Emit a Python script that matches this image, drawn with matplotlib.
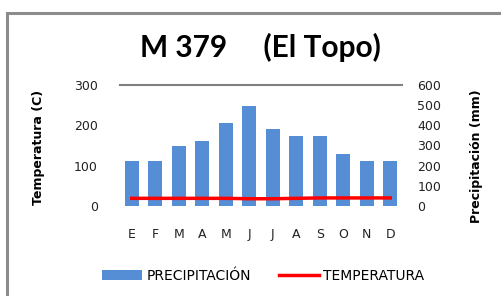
import matplotlib.pyplot as plt
from matplotlib.patches import Rectangle

months = ["E", "F", "M", "A", "M", "J", "J", "A", "S", "O", "N", "D"]
precipitacion = [225, 225, 300, 320, 410, 495, 380, 345, 345, 260, 225, 225]
temperatura = [19, 19, 19, 19, 19, 18, 18, 19, 20, 20, 20, 20]
temp_ticks = [0, 100, 200, 300]
prec_ticks = [0, 100, 200, 300, 400, 500, 600]

plt.rcParams['font.family'] = ['DejaVu Sans']

fig = plt.figure(figsize=(5.01, 2.96), dpi=100)

# outer chart border (only top/left visible in the crop)
fig.patches.append(Rectangle((7 / 501, -0.2), 1.2, 1 - 13 / 296 + 0.2,
                             transform=fig.transFigure, fill=False,
                             edgecolor="#8c8c8c", linewidth=2.2))

ax = fig.add_axes([120 / 501, 90 / 296, 282 / 501, 121 / 296])
ax2 = ax.twinx()
ax.set_zorder(ax2.get_zorder() + 1)
ax.patch.set_visible(False)

x = list(range(len(months)))
ax2.bar(x, precipitacion, width=0.58, color="#558ed5", label="PRECIPITACIÓN")
ax.plot(x, temperatura, color="#ff0000", linewidth=2.5, label="TEMPERATURA")

ax.set_xlim(-0.5, 11.5)
ax.set_ylim(0, 300)
ax2.set_ylim(0, 600)
ax.set_yticks(temp_ticks)
ax.set_yticklabels([str(t) for t in temp_ticks])
ax2.set_yticks(prec_ticks)
ax2.set_yticklabels([str(t) for t in prec_ticks])
ax.set_xticks(x)
ax.set_xticklabels(months)

ax.axhline(300, color="#808080", linewidth=1.5, clip_on=False)

for a in (ax, ax2):
    for s in a.spines.values():
        s.set_visible(False)
ax.tick_params(axis="y", length=0, pad=16, labelsize=9, labelcolor="#222222")
ax.tick_params(axis="x", length=0, pad=16, labelsize=9, labelcolor="#222222")
ax2.tick_params(axis="y", length=0, pad=11, labelsize=9, labelcolor="#222222")

ax.set_ylabel("Temperatura (C)", fontsize=9, fontweight="bold")
ax2.set_ylabel("Precipitación (mm)", fontsize=9, fontweight="bold")
ax.yaxis.set_label_coords(-0.265, 0.48)
ax2.yaxis.set_label_coords(1.24, 0.41)

fig.text(0.52, 0.841, "M 379     (El Topo)", ha="center", va="center",
         fontsize=21.5, fontweight="bold", family=["Lato", "DejaVu Sans"])

h1, l1 = ax2.get_legend_handles_labels()
h2, l2 = ax.get_legend_handles_labels()
fig.legend(h1 + h2, l1 + l2, loc="center", bbox_to_anchor=(0.525, 0.068),
           ncol=2, frameon=False, fontsize=10, handlelength=2.9,
           handleheight=0.65, handletextpad=0.3, columnspacing=2.0)

fig.savefig("out.png", dpi=100)
